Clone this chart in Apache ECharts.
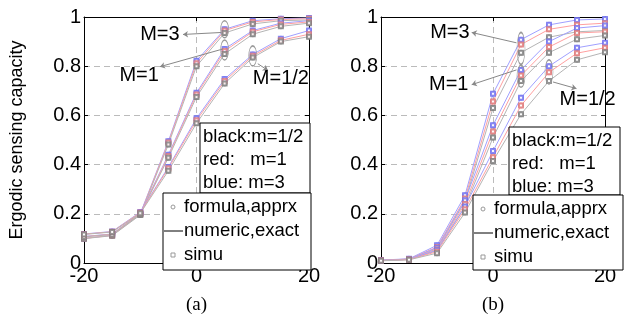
<!DOCTYPE html>
<html>
<head>
<meta charset="utf-8">
<script src="https://cdn.jsdelivr.net/npm/echarts@6/dist/echarts.min.js"></script>
<style>
  html, body { margin: 0; padding: 0; background: #fff; }
  #chart { width: 631px; height: 320px; }
</style>
</head>
<body>
<div id="chart"></div>
<script>
// SNR points (dB)
var snr = [-20, -15, -10, -5, 0, 5, 10, 15, 20];

// (a)
var aM3Blue   = [0.100, 0.113, 0.200, 0.495, 0.822, 0.950, 0.985, 0.993, 0.996];
var aM3Red    = [0.100, 0.112, 0.198, 0.490, 0.812, 0.945, 0.980, 0.990, 0.993];
var aM3Black  = [0.099, 0.111, 0.195, 0.482, 0.800, 0.935, 0.972, 0.985, 0.988];
var aM1Blue   = [0.108, 0.118, 0.203, 0.440, 0.692, 0.870, 0.945, 0.975, 0.985];
var aM1Red    = [0.107, 0.117, 0.201, 0.435, 0.685, 0.862, 0.940, 0.970, 0.980];
var aM1Black  = [0.106, 0.116, 0.198, 0.428, 0.675, 0.850, 0.930, 0.962, 0.975];
var aM05Blue  = [0.118, 0.128, 0.207, 0.390, 0.588, 0.748, 0.848, 0.912, 0.945];
var aM05Red   = [0.117, 0.127, 0.205, 0.385, 0.580, 0.740, 0.842, 0.905, 0.930];
var aM05Black = [0.116, 0.126, 0.202, 0.375, 0.568, 0.730, 0.835, 0.900, 0.920];

// (b)
var bM3Blue   = [0.012, 0.017, 0.072, 0.275, 0.688, 0.908, 0.968, 0.988, 0.992];
var bM3Red    = [0.011, 0.016, 0.065, 0.262, 0.657, 0.888, 0.950, 0.968, 0.975];
var bM3Black  = [0.010, 0.015, 0.058, 0.250, 0.630, 0.855, 0.918, 0.940, 0.945];
var bM1Blue   = [0.011, 0.016, 0.062, 0.255, 0.560, 0.785, 0.900, 0.955, 0.965];
var bM1Red    = [0.010, 0.015, 0.055, 0.240, 0.535, 0.762, 0.878, 0.935, 0.940];
var bM1Black  = [0.010, 0.014, 0.050, 0.228, 0.510, 0.740, 0.855, 0.910, 0.925];
var bM05Blue  = [0.010, 0.015, 0.052, 0.230, 0.455, 0.672, 0.800, 0.875, 0.895];
var bM05Red   = [0.010, 0.014, 0.046, 0.218, 0.430, 0.640, 0.775, 0.853, 0.875];
var bM05Black = [0.009, 0.013, 0.040, 0.205, 0.415, 0.605, 0.740, 0.826, 0.857];

// annotations in data coords: label, arrow from -> to, ellipse centre
var aNotes = [
  {text: 'M=3',   at: [-6.5, 0.929],  from: [4.4, 0.937], to: [-2.4, 0.929], ell: [5, 0.950],  eh: 17},
  {text: 'M=1',   at: [-10.2, 0.763], from: [4.7, 0.870], to: [-6.5, 0.798], ell: [5, 0.866],  eh: 20},
  {text: 'M=1/2', at: [15.0, 0.751],  from: [10.9, 0.810], to: [12.7, 0.783], ell: [10, 0.842], eh: 20}
];
var bNotes = [
  {text: 'M=3',   at: [-7.7, 0.936],  from: [4.2, 0.895], to: [-3.8, 0.937], ell: [5, 0.872],  eh: 32},
  {text: 'M=1',   at: [-7.9, 0.725],  from: [4.2, 0.785], to: [-3.8, 0.725], ell: [5, 0.759],  eh: 22},
  {text: 'M=1/2', at: [16.9, 0.663],  from: [10.7, 0.736], to: [14.9, 0.709], ell: [10, 0.777], eh: 24}
];

var lineCol = {blue: '#a0a0ff', red: '#ffa0a0', black: '#b4b4b4'};
var markCol = {blue: '#7373f0', red: '#e07a7a', black: '#808080'};
var fontSans = 'Liberation Sans, Arial, sans-serif';

var plots = [
  {curves: [['blue', aM3Blue], ['red', aM3Red], ['black', aM3Black],
            ['blue', aM1Blue], ['red', aM1Red], ['black', aM1Black],
            ['blue', aM05Blue], ['red', aM05Red], ['black', aM05Black]], notes: aNotes},
  {curves: [['blue', bM3Blue], ['red', bM3Red], ['black', bM3Black],
            ['blue', bM1Blue], ['red', bM1Red], ['black', bM1Black],
            ['blue', bM05Blue], ['red', bM05Red], ['black', bM05Black]], notes: bNotes}
];

function pairs(arr) {
  return snr.map(function (x, i) { return [x, arr[i]]; });
}

var series = [];
plots.forEach(function (p, k) {
  p.curves.forEach(function (c) {
    var d = pairs(c[1]);
    series.push({type: 'line', xAxisIndex: k, yAxisIndex: k, data: d, showSymbol: false,
      lineStyle: {color: lineCol[c[0]], width: 1}, z: 2, silent: true});
    series.push({type: 'scatter', xAxisIndex: k, yAxisIndex: k, data: d, symbol: 'emptyCircle', symbolSize: 4,
      itemStyle: {color: markCol[c[0]], borderWidth: 0.8, opacity: 0.7}, z: 3});
    series.push({type: 'scatter', xAxisIndex: k, yAxisIndex: k, data: d, symbol: 'emptyRect', symbolSize: 4,
      itemStyle: {color: markCol[c[0]], borderWidth: 0.8}, z: 4});
  });
  // ellipses, arrows, labels
  series.push({
    type: 'line', xAxisIndex: k, yAxisIndex: k, data: [], z: 5,
    markPoint: {
      silent: true,
      data: p.notes.map(function (n) {
        return {coord: n.ell, symbol: 'circle', symbolSize: [8, n.eh],
          itemStyle: {color: 'rgba(0,0,0,0)', borderColor: '#999', borderWidth: 1}, label: {show: false}};
      }).concat(p.notes.map(function (n) {
        return {coord: n.at, symbol: 'circle', symbolSize: 0,
          label: {show: true, position: 'inside', formatter: n.text, color: '#000', fontSize: 20, fontFamily: fontSans}};
      }))
    },
    markLine: {
      silent: true, symbol: ['none', 'arrow'], symbolSize: 5,
      lineStyle: {color: '#888', width: 1, type: 'solid'}, label: {show: false},
      data: p.notes.map(function (n) { return [{coord: n.from}, {coord: n.to}]; })
    }
  });
});

var tick = {inside: true, length: 4, lineStyle: {color: '#000'}};
function makeX(k, name) {
  return {type: 'value', gridIndex: k, min: -20, max: 20, interval: 20,
    name: name, nameLocation: 'middle', nameGap: 33,
    nameTextStyle: {fontFamily: 'Liberation Serif, Times New Roman, serif', fontSize: 19, color: '#000'},
    axisLine: {onZero: false, lineStyle: {color: '#000'}},
    axisTick: tick,
    axisLabel: {color: '#000', fontSize: 20, fontFamily: fontSans, margin: 3},
    splitLine: {show: true, lineStyle: {type: [6, 4], color: '#bbb'}}};
}
function makeY(k, name) {
  return {type: 'value', gridIndex: k, min: 0, max: 1, interval: 0.2,
    name: name, nameLocation: 'middle', nameGap: 58, nameRotate: 90,
    nameTextStyle: {fontFamily: fontSans, fontSize: 18, color: '#000'},
    axisLine: {onZero: false, lineStyle: {color: '#000'}},
    axisTick: tick,
    axisLabel: {color: '#000', fontSize: 20, fontFamily: fontSans, margin: 3},
    splitLine: {show: true, lineStyle: {type: [6, 4], color: '#bbb'}}};
}
// mirrored frame axes (top / right)
function frameX(k) {
  return {type: 'value', gridIndex: k, position: 'top', min: -20, max: 20, interval: 20,
    axisLine: {onZero: false, lineStyle: {color: '#000'}}, axisTick: tick,
    axisLabel: {show: false}, splitLine: {show: false}};
}
function frameY(k) {
  return {type: 'value', gridIndex: k, position: 'right', min: 0, max: 1, interval: 0.2,
    axisLine: {onZero: false, lineStyle: {color: '#000'}}, axisTick: tick,
    axisLabel: {show: false}, splitLine: {show: false}};
}

// text boxes
function boxes(b1, b2) {
  var t = {fontSize: 18.5, fontFamily: fontSans, fill: '#000'};
  var els = [];
  els.push({type: 'rect', shape: {x: b1[0], y: b1[1], width: b1[2], height: b1[3]},
    style: {fill: '#fff', stroke: '#000', lineWidth: 1}, z: 100});
  ['black:m=1/2', 'red:   m=1', 'blue: m=3'].forEach(function (s, i) {
    els.push({type: 'text', x: b1[0] + 3, y: b1[1] + 14 + i * 23,
      style: Object.assign({text: s, textVerticalAlign: 'middle'}, t), z: 101});
  });
  els.push({type: 'rect', shape: {x: b2[0], y: b2[1], width: b2[2], height: b2[3]},
    style: {fill: '#fff', stroke: '#000', lineWidth: 1}, z: 100});
  var ix = b2[0] + 10, tx = b2[0] + 21;
  ['formula,apprx', 'numeric,exact', 'simu'].forEach(function (s, i) {
    els.push({type: 'text', x: tx, y: b2[1] + 14 + i * 24,
      style: Object.assign({text: s, textVerticalAlign: 'middle'}, t), z: 101});
  });
  els.push({type: 'circle', shape: {cx: ix, cy: b2[1] + 14, r: 2}, style: {fill: 'none', stroke: '#999'}, z: 101});
  els.push({type: 'line', shape: {x1: ix - 9, y1: b2[1] + 38, x2: ix + 10, y2: b2[1] + 38}, style: {stroke: '#000', lineWidth: 1}, z: 101});
  els.push({type: 'rect', shape: {x: ix - 2, y: b2[1] + 60, width: 4, height: 4}, style: {fill: 'none', stroke: '#999'}, z: 101});
  return els;
}

var chart = echarts.init(document.getElementById('chart'));
var option = {
  animation: false,
  backgroundColor: '#fff',
  grid: [
    {left: 84, top: 17, width: 225, height: 253},
    {left: 381, top: 17, width: 224, height: 251}
  ],
  xAxis: [makeX(0, '(a)'), makeX(1, '(b)'), frameX(0), frameX(1)],
  yAxis: [makeY(0, 'Ergodic sensing capacity'), makeY(1, ''), frameY(0), frameY(1)],
  series: series,
  graphic: boxes([200, 123, 110, 70], [163, 193, 148, 77])
    .concat(boxes([509, 127, 111, 68], [473, 195, 150, 75]))
};
chart.setOption(option);
</script>
</body>
</html>
